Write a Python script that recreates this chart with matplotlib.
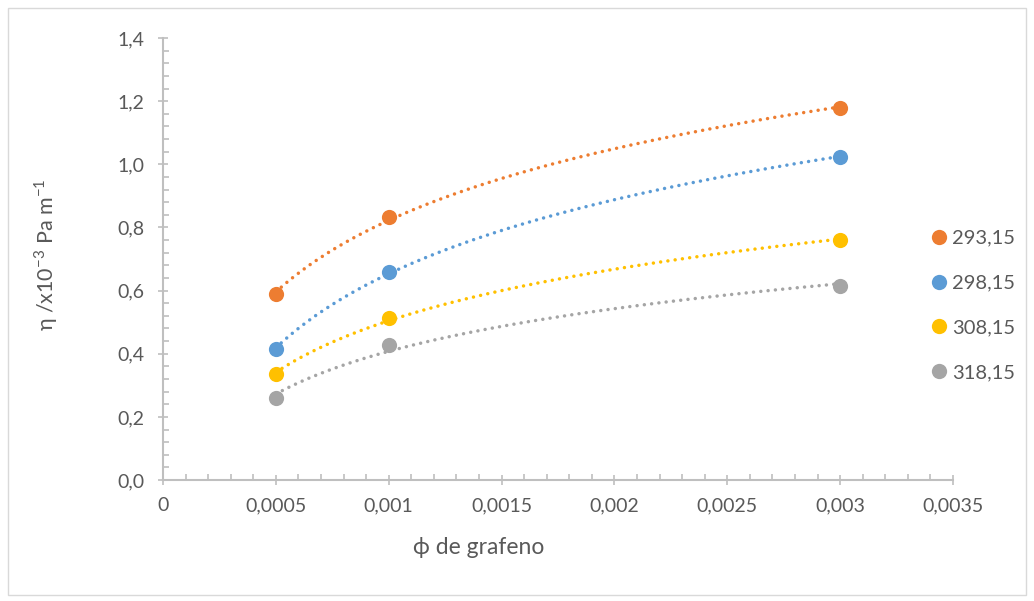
import numpy as np
import matplotlib
matplotlib.use("Agg")
import matplotlib.pyplot as plt
from matplotlib.lines import Line2D
from matplotlib.patches import Rectangle
from matplotlib.ticker import MultipleLocator, FuncFormatter

plt.rcParams['font.family'] = ['Lato', 'DejaVu Sans']
plt.rcParams['mathtext.fontset'] = 'custom'
plt.rcParams['mathtext.rm'] = 'Lato'

# volume fraction of graphene and viscosity at each temperature (K)
phi = np.array([0.0005, 0.001, 0.003])
eta_293 = np.array([0.589, 0.833, 1.178])
eta_298 = np.array([0.415, 0.659, 1.023])
eta_308 = np.array([0.336, 0.513, 0.760])
eta_318 = np.array([0.260, 0.428, 0.614])
temps = ['293,15', '298,15', '308,15', '318,15']
colors = ['#ED7D31', '#5B9BD5', '#FFC000', '#A5A5A5']

txt = '#595959'
axc = '#BFBFBF'

fig = plt.figure(figsize=(10.34, 6.01), dpi=100)
ax = fig.add_axes([0.1576, 0.2013, 0.7641, 0.7354])

# light frame around the whole chart
fig.patches.append(Rectangle((8/1034, 6/601), 1018/1034, 587/601, transform=fig.transFigure,
                             fill=False, ec='#D9D9D9', lw=1))

xs = np.linspace(phi[0], phi[-1], 200)
handles = []
for ys, c, t in zip([eta_293, eta_298, eta_308, eta_318], colors, temps):
    # logarithmic trendline fitted to the points
    a, b = np.polyfit(np.log(phi), ys, 1)
    ax.plot(xs, a*np.log(xs) + b, color=c, lw=2.5, ls=(0, (0.01, 2.1)),
            dash_capstyle='round', zorder=2)
    ax.scatter(phi, ys, s=120, color=c, zorder=3, linewidths=0)
    handles.append(Line2D([], [], ls='none', marker='o', ms=11, color=c, mew=0, label=t))

ax.set_xlim(0, 0.0035)
ax.set_ylim(0, 1.4)
ax.xaxis.set_major_locator(MultipleLocator(0.0005))
ax.xaxis.set_minor_locator(MultipleLocator(0.0001))
ax.yaxis.set_major_locator(MultipleLocator(0.2))
ax.yaxis.set_minor_locator(MultipleLocator(0.04))

def xfmt(v, pos):
    if abs(v) < 1e-12:
        return '0'
    return ('%.4f' % v).rstrip('0').replace('.', ',')

ax.xaxis.set_major_formatter(FuncFormatter(xfmt))
ax.yaxis.set_major_formatter(FuncFormatter(lambda v, p: ('%.1f' % v).replace('.', ',')))

for s in ['top', 'right']:
    ax.spines[s].set_visible(False)
for s in ['left', 'bottom']:
    ax.spines[s].set_color(axc)
    ax.spines[s].set_linewidth(1.5)

ax.tick_params(which='major', direction='inout', length=7, width=1.2, color=axc,
               labelcolor=txt, labelsize=14)
ax.tick_params(axis='y', which='major', pad=10)
ax.tick_params(axis='x', which='major', pad=9)
ax.tick_params(which='minor', direction='in', length=4.3, width=1.2, color=axc)

ax.set_xlabel('ϕ de grafeno', fontsize=16.5, color=txt)
ax.xaxis.set_label_coords(0.4, -0.13)
ax.set_ylabel(r'η /x10$^{\mathregular{-3}}$ Pa m$^{\mathregular{-1}}$', fontsize=15.5, color=txt)
ax.yaxis.set_label_coords(-0.13, 0.51)

fig.legend(handles=handles, loc='center left', bbox_to_anchor=(0.9004, 0.4917),
           frameon=False, fontsize=14.5, labelcolor=txt, handlelength=0.75,
           handletextpad=0.3, labelspacing=1.38, borderpad=0, borderaxespad=0)

fig.savefig('out.png', dpi=100)
